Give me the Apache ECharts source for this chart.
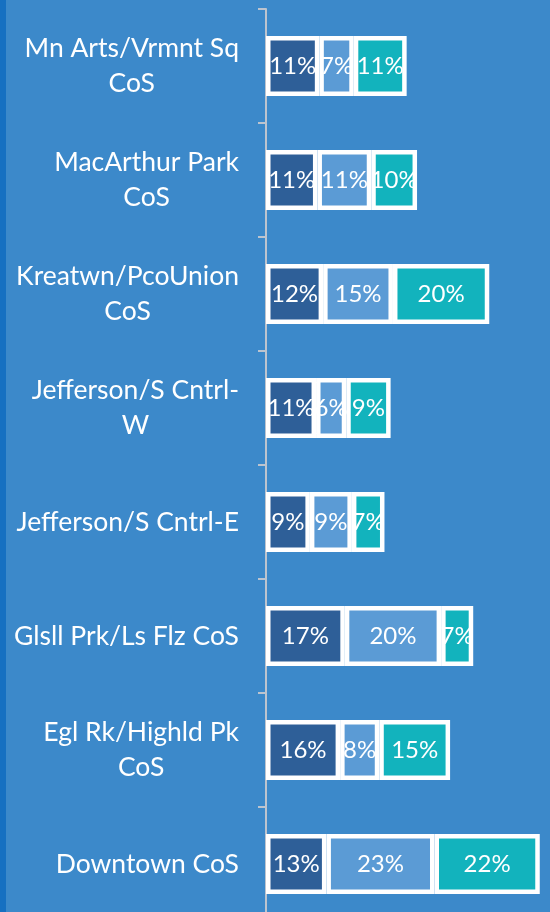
<!DOCTYPE html>
<html>
<head>
<meta charset="utf-8">
<style>
  html, body { margin: 0; padding: 0; background: #3c89ca; }
  #wrap { position: relative; width: 550px; height: 912px; overflow: hidden; }
  #strip { position: absolute; left: 0; top: 0; width: 6px; height: 912px; background: #1670c1; z-index: 2; }
  #chart { position: absolute; left: 0; top: 0; width: 550px; height: 930px; }
</style>
<script src="https://cdn.jsdelivr.net/npm/echarts@6/dist/echarts.min.js"></script>
</head>
<body>
<div id="wrap"><div id="strip"></div><div id="chart"></div></div>
<script>
const categories = [
  'Mn Arts/Vrmnt Sq\nCoS',
  'MacArthur Park\nCoS',
  'Kreatwn/PcoUnion\nCoS',
  'Jefferson/S Cntrl-\nW',
  'Jefferson/S Cntrl-E',
  'Glsll Prk/Ls Flz CoS',
  'Egl Rk/Highld Pk\nCoS',
  'Downtown CoS'
];
const seriesA = [11.3, 10.9, 12.1, 10.6, 9.3, 16.7, 15.7, 12.8];
const seriesB = [7.3, 11.4, 14.8, 6.4, 8.9, 20.4, 8.3, 22.9];
const seriesC = [11.2, 9.7, 20.4, 9.4, 6.9, 6.8, 15.0, 22.3];
const seriesNames = ['A', 'B', 'C'];
const colors = ['#2e5f98', '#5b9bd5', '#12b3bd'];
const FONT = 'Lato';

const chart = echarts.init(document.getElementById('chart'), null, { renderer: 'canvas' });

function mkSeries(name, data, color) {
  return {
    name: name,
    type: 'bar',
    stack: 'total',
    barWidth: 60,
    data: data,
    itemStyle: { color: color, borderColor: '#ffffff', borderWidth: 4.5 },
    label: {
      show: true,
      position: 'inside',
      color: '#ffffff',
      fontFamily: FONT,
      fontSize: 24,
      formatter: p => Math.round(p.value) + '%'
    },
    emphasis: { disabled: true },
    animation: false
  };
}

chart.setOption({
  backgroundColor: 'transparent',
  animation: false,
  grid: { left: 266, width: 283.2, top: 9, height: 912, containLabel: false },
  xAxis: {
    type: 'value', min: 0, max: 60,
    show: false,
    splitLine: { show: false }
  },
  yAxis: {
    type: 'category',
    inverse: true,
    data: categories,
    axisLine: { show: true, lineStyle: { color: '#bcc4cf', width: 2 } },
    axisTick: { show: true, length: 8, lineStyle: { color: '#bcc4cf', width: 2 } },
    axisLabel: {
      margin: 27,
      color: '#ffffff',
      fontFamily: FONT,
      fontSize: 26.5,
      lineHeight: 35,
      formatter: v => v.split('\n').map(s => '{c|' + s + '}').join('\n'),
      rich: { c: { align: 'center', color: '#ffffff', fontFamily: FONT, fontSize: 26.5, lineHeight: 35 } }
    }
  },
  series: [
    mkSeries(seriesNames[0], seriesA, colors[0]),
    mkSeries(seriesNames[1], seriesB, colors[1]),
    mkSeries(seriesNames[2], seriesC, colors[2])
  ]
});
</script>
</body>
</html>
